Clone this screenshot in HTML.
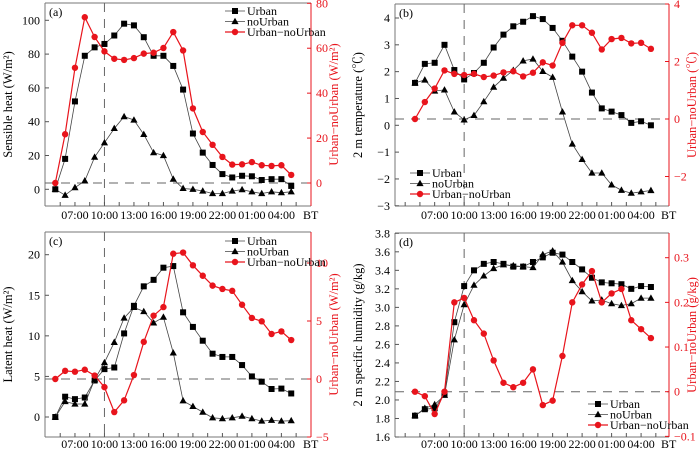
<!DOCTYPE html>
<html><head><meta charset="utf-8">
<style>
html,body{margin:0;padding:0;background:#fff;}
svg{display:block;font-family:"Liberation Serif","Noto Serif CJK SC",serif;}
</style></head>
<body>
<svg id="chart" width="700" height="449" viewBox="0 0 700 449" xmlns="http://www.w3.org/2000/svg"></svg>
<script>
// x categories (hours BT, 05:00 day 1 .. 05:00 day 2)
const hours = [5,6,7,8,9,10,11,12,13,14,15,16,17,18,19,20,21,22,23,0,1,2,3,4,5];
const xTickLabels = ["07:00","10:00","13:00","16:00","19:00","22:00","01:00","04:00"];
const xTickIdx = [2,5,8,11,14,17,20,23];

// (a) sensible heat
const aUrban = [0,18,52,79,84,86,91,98,97,90,79,79,73,59,33,21.7,14.4,9,7,8,7.7,5.5,6,6,2];
const aNoUrban = [0,-3.5,1,5,19,27.5,36,43,41,32.5,21.7,20,6,0.5,0,-1,-2.5,-2.5,-1,-0.2,-1.5,-2.5,-1.5,-2,-1.5];
const aDiff = [0,21.7,51.3,73.8,65,58.6,55.3,54.8,55.6,57.6,58,60.1,67.2,59,33.2,22.7,17,11.6,8.2,8.3,9.3,7.9,7.6,7.9,3.6];
const aLeftTicks = [0,20,40,60,80,100];
const aRightTicks = [0,20,40,60,80];
// (b) 2 m temperature
const bUrban = [1.58,2.29,2.33,3.0,2.06,1.71,1.95,2.33,2.9,3.38,3.69,3.86,4.07,3.96,3.63,3.15,2.56,2.0,1.22,0.63,0.51,0.38,0.09,0.15,0];
const bNoUrban = [1.58,1.69,1.28,1.32,0.5,0.2,0.37,0.88,1.42,1.76,2.05,2.4,2.47,2.01,1.79,0.5,-0.7,-1.27,-1.78,-1.78,-2.22,-2.42,-2.53,-2.48,-2.43];
const bDiff = [0,0.59,1.06,1.69,1.57,1.53,1.57,1.46,1.51,1.62,1.66,1.48,1.61,1.97,1.86,2.65,3.26,3.26,3.0,2.42,2.78,2.82,2.63,2.65,2.44];
const bLeftTicks = [-3,-2,-1,0,1,2,3,4];
const bRightTicks = [-2,0,2,4];
// (c) latent heat
const cUrban = [0,2.5,2.2,2.4,4.5,5.9,6.1,10.3,13.7,16.1,16.9,18.4,18.6,12.9,11.1,9.4,7.8,7.4,7.4,6.4,5.0,4.35,3.45,3.5,2.9];
const cNoUrban = [0,1.9,1.6,1.6,4.6,6.7,9.2,12.2,13.5,13.0,11.6,12.3,7.9,2.0,1.3,0.6,-0.1,-0.2,-0.1,0.1,-0.2,-0.5,-0.4,-0.5,-0.45];
const cDiff = [0,0.7,0.63,0.8,0.3,-0.7,-2.85,-1.84,0.34,3.2,5.46,6.2,10.8,10.9,9.8,8.9,8.05,7.76,7.6,6.4,5.26,4.97,3.88,4.1,3.36];
const cLeftTicks = [0,5,10,15,20];
const cRightTicks = [-5,0,5,10];
// (d) 2 m specific humidity
const dUrban = [1.83,1.90,1.91,2.06,2.84,3.23,3.40,3.47,3.49,3.47,3.44,3.44,3.49,3.54,3.59,3.57,3.49,3.41,3.32,3.27,3.26,3.25,3.20,3.23,3.22];
const dNoUrban = [1.83,1.91,1.95,2.05,2.65,3.03,3.24,3.34,3.42,3.46,3.45,3.44,3.43,3.57,3.61,3.49,3.29,3.17,3.07,3.08,3.04,3.02,3.04,3.10,3.1];
const dDiff = [0,-0.01,-0.05,0,0.2,0.21,0.16,0.13,0.07,0.02,0.01,0.02,0.05,-0.03,-0.02,0.08,0.2,0.24,0.27,0.2,0.22,0.23,0.16,0.14,0.12];
const dLeftTicks = [1.6,1.8,2.0,2.2,2.4,2.6,2.8,3.0,3.2,3.4,3.6,3.8];
const dRightTicks = [-0.1,0,0.1,0.2,0.3];

const NS="http://www.w3.org/2000/svg";
const svg=document.getElementById('chart');
function mk(tag,attrs,parent){const e=document.createElementNS(NS,tag);for(const k in attrs)e.setAttribute(k,attrs[k]);(parent||svg).appendChild(e);return e;}
function lin(v1,p1,v2,p2){return v=>p1+(v-v1)*(p2-p1)/(v2-v1);}

const panels=[
 {id:'a',ox:0,oy:0,L:45,R:311,T:3,B:206,xl:13,x0:55.3,ls:lin(0,189.3,100,20.3),rs:lin(0,183,80,3.3),
  u:aUrban,n:aNoUrban,d:aDiff,lt:aLeftTicks,rt:aRightTicks,fmtL:v=>v,fmtR:v=>v,
  ytitle:'Sensible heat (W/m²)',rtitle:'Urban−noUrban (W/m²)',leg:{x:225,y:11}},
 {id:'b',ox:350,oy:0,L:45,R:319,T:4,B:206,xl:13,x0:65,ls:lin(0,125.3,4,18),rs:lin(0,119,4,4),
  u:bUrban,n:bNoUrban,d:bDiff,lt:bLeftTicks,rt:bRightTicks,fmtL:v=>v<0?'−'+(-v):v,fmtR:v=>v<0?'−'+(-v):v,
  ytitle:'2 m  temperature (℃)',rtitle:'Urban−noUrban (℃)',leg:{x:60,y:173}},
 {id:'c',ox:0,oy:225,L:45,R:311,T:7,B:212,xl:11,x0:55.3,ls:lin(0,192,20,29.7),rs:lin(0,154,10,38),
  u:cUrban,n:cNoUrban,d:cDiff,lt:cLeftTicks,rt:cRightTicks,fmtL:v=>v,fmtR:v=>v<0?'−'+(-v):v,
  ytitle:'Latent heat (W/m²)',rtitle:'Urban−noUrban (W/m²)',leg:{x:225,y:16}},
 {id:'d',ox:350,oy:225,L:45,R:319,T:8,B:212,xl:11,x0:65,ls:lin(1.6,212,3.8,8.3),rs:lin(0,166.7,0.3,32.7),
  u:dUrban,n:dNoUrban,d:dDiff,lt:dLeftTicks,rt:dRightTicks,fmtL:v=>v.toFixed(1),fmtR:v=>v<0?'−'+(-v).toFixed(1):(v===0?'0':v.toFixed(1)),
  ytitle:'2 m  specific humidity (g/kg)',rtitle:'Urban−noUrban (g/kg)',leg:{x:238,y:179}}
];

function marker(g,type,x,y){
  if(type==='sq'){const m=mk('rect',{x:x-3,y:y-3,width:6,height:6,fill:'#000'},g);}
  else if(type==='tri'){const m=mk('polygon',{points:`${x},${y-3.8} ${x-3.6},${y+2.6} ${x+3.6},${y+2.6}`,fill:'#000'},g);}
  else {const m=mk('circle',{cx:x,cy:y,r:3.2,fill:'#e8141c'},g);}
}
function series(g,vals,xf,yf,type,color,w,name){
  const pts=vals.map((v,i)=>xf(i).toFixed(1)+','+yf(v).toFixed(1)).join(' ');
  const pl=mk('polyline',{points:pts,fill:'none',stroke:color,'stroke-width':w},g);
  
  
  vals.forEach((v,i)=>marker(g,type,xf(i),yf(v)));
}

panels.forEach(p=>{
  const g=mk('g',{transform:`translate(${p.ox},${p.oy})`});
  
  
  const xf=i=>p.x0+i*9.83;
  mk('line',{x1:p.L,y1:p.T,x2:p.R,y2:p.T,stroke:'#777','stroke-width':1},g);
  mk('line',{x1:p.L,y1:p.B,x2:p.R,y2:p.B,stroke:'#777','stroke-width':1},g);
  mk('line',{x1:p.L,y1:p.T,x2:p.L,y2:p.B,stroke:'#777','stroke-width':1},g);
  mk('line',{x1:p.R,y1:p.T,x2:p.R,y2:p.B,stroke:'#e8141c','stroke-width':1},g);
  const dh=mk('line',{x1:p.L,y1:p.rs(0),x2:p.R,y2:p.rs(0),stroke:'#666','stroke-width':1,'stroke-dasharray':'9,7'},g);
  
  const dv=mk('line',{x1:xf(5),y1:p.T,x2:xf(5),y2:p.B,stroke:'#666','stroke-width':1,'stroke-dasharray':'9,7'},g);
  
  p.lt.forEach(v=>{const y=p.ls(v);mk('line',{x1:p.L,y1:y,x2:p.L+4,y2:y,stroke:'#555'},g);
    const t=mk('text',{x:p.L-5,y:y+4,'text-anchor':'end','font-size':12,fill:'#000'},g);t.textContent=p.fmtL(v);
    });
  p.rt.forEach(v=>{const y=p.rs(v);mk('line',{x1:p.R,y1:y,x2:p.R-4,y2:y,stroke:'#e8141c'},g);
    const t=mk('text',{x:p.R+5,y:y+4,'font-size':12,fill:'#e8141c'},g);t.textContent=p.fmtR(v);
    });
  for(let i=-1;i<=25;i+=1.5){const x=xf(i);if(x<p.L+1||x>p.R-1)continue;mk('line',{x1:x,y1:p.B,x2:x,y2:p.B-4,stroke:'#555'},g);}
  xTickIdx.forEach((ix,k)=>{const t=mk('text',{x:xf(ix),y:p.B+p.xl,'text-anchor':'middle','font-size':12,fill:'#000'},g);t.textContent=xTickLabels[k];
    });
  const bt=mk('text',{x:p.R-8,y:p.B+p.xl,'font-size':12,fill:'#000'},g);bt.textContent='BT';
  
  const cy=(p.T+p.B)/2;
  const yt=mk('text',{x:0,y:0,transform:`translate(${p.L-33},${cy}) rotate(-90)`,'text-anchor':'middle','font-size':12.5,fill:'#000'},g);yt.textContent=p.ytitle;
  
  const rt=mk('text',{x:0,y:0,transform:`translate(${p.R+27},${cy}) rotate(-90)`,'text-anchor':'middle','font-size':12.5,fill:'#e8141c'},g);rt.textContent=p.rtitle;
  
  const pl=mk('text',{x:p.L+4,y:p.T+13,'font-size':12,fill:'#000'},g);pl.textContent='('+p.id+')';
  
  series(g,p.u,xf,p.ls,'sq','#444',0.8,'urban-line');
  series(g,p.n,xf,p.ls,'tri','#444',0.8,'nourban-line');
  series(g,p.d,xf,p.rs,'ci','#e8141c',1.2,'diff-line');
  const lg=mk('g',{},g);
  [['sq','#444','Urban'],['tri','#444','noUrban'],['ci','#e8141c','Urban−noUrban']].forEach((e,k)=>{
    const y=p.leg.y+k*10.5;
    mk('line',{x1:p.leg.x,y1:y,x2:p.leg.x+20,y2:y,stroke:e[1],'stroke-width':e[0]==='ci'?1.2:0.8},lg);
    marker(lg,e[0],p.leg.x+10,y);
    const t=mk('text',{x:p.leg.x+22,y:y+4,'font-size':12,fill:'#000'},lg);t.textContent=e[2];
    
  });
});
</script>
</body></html>
